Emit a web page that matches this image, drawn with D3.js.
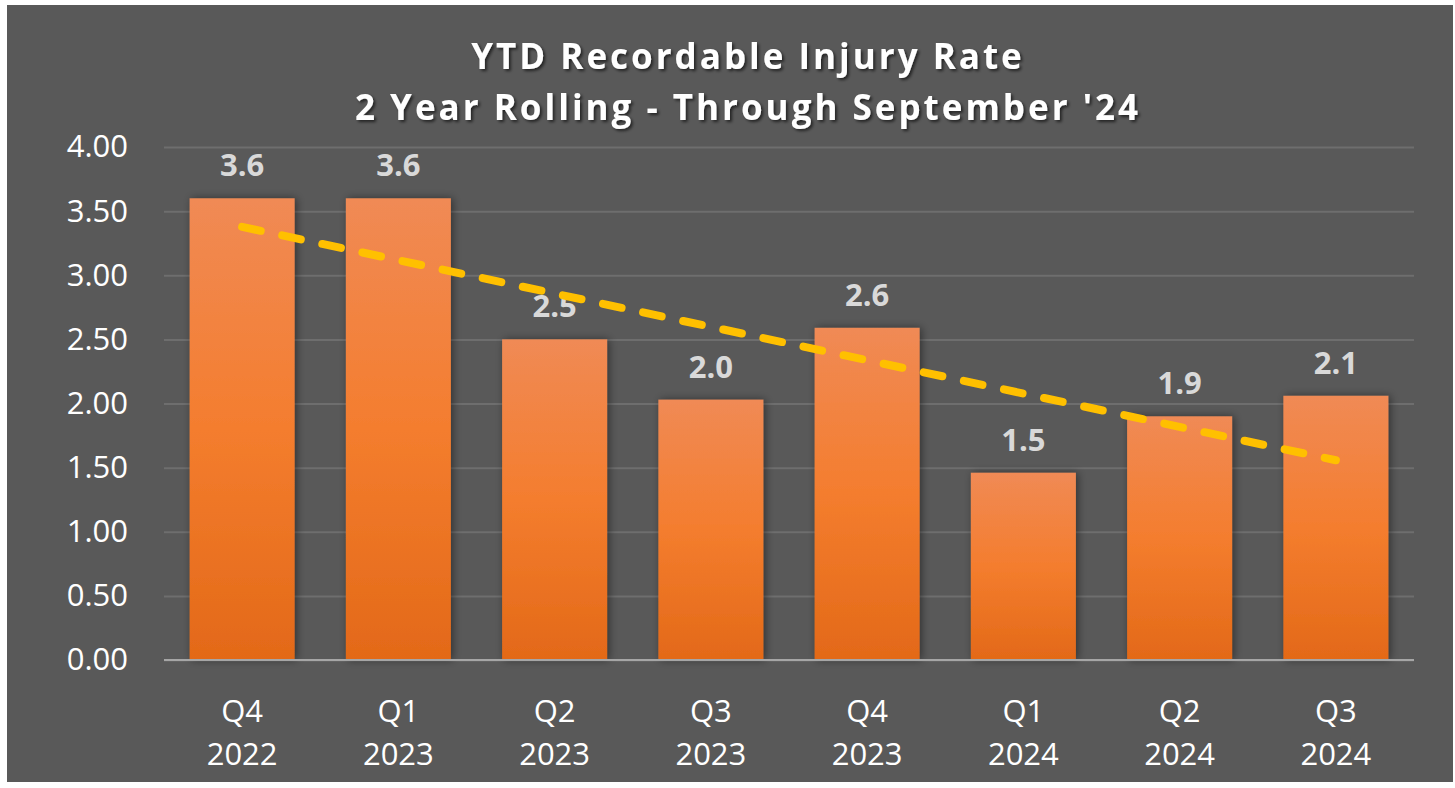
<!DOCTYPE html>
<html><head><meta charset="utf-8">
<script src="https://cdn.jsdelivr.net/npm/d3@7"></script>
<style>
html,body{margin:0;padding:0;background:#fff;}
svg{display:block;}
</style></head>
<body>
<svg id="chart" width="1455" height="788"></svg>
<script>
const quarters = ["Q4","Q1","Q2","Q3","Q4","Q1","Q2","Q3"];
const years = ["2022","2023","2023","2023","2023","2024","2024","2024"];
const rates = [3.6, 3.6, 2.5, 2.03, 2.59, 1.46, 1.9, 2.06];
const yTicks = [0,0.5,1,1.5,2,2.5,3,3.5,4];
const titleLines = ["YTD Recordable Injury Rate", "2 Year Rolling - Through September '24"];

const svg = d3.select("#chart");
const plot = {left:164, right:1414, top:147, bottom:660};

const defs = svg.append("defs");
const grad = defs.append("linearGradient").attr("id","barGrad").attr("x1",0).attr("y1",0).attr("x2",0).attr("y2",1);
grad.append("stop").attr("offset","0%").attr("stop-color","#F08A55");
grad.append("stop").attr("offset","50%").attr("stop-color","#F47D2E");
grad.append("stop").attr("offset","100%").attr("stop-color","#E36918");
const sh = defs.append("filter").attr("id","barShadow").attr("x","-20%").attr("y","-10%").attr("width","140%").attr("height","120%");
sh.append("feDropShadow").attr("dx",2).attr("dy",0).attr("stdDeviation",4).attr("flood-color","#000").attr("flood-opacity",0.45);
const tsh = defs.append("filter").attr("id","textShadow").attr("x","-5%").attr("y","-30%").attr("width","110%").attr("height","160%");
tsh.append("feDropShadow").attr("dx",2).attr("dy",2).attr("stdDeviation",1.5).attr("flood-color","#000").attr("flood-opacity",0.6);

svg.append("rect").attr("x",7).attr("y",5).attr("width",1446).attr("height",777).attr("fill","#595959");

const labels = quarters.map((q,i)=>q+" "+years[i]+"#"+i);
const x = d3.scaleBand().domain(labels).range([plot.left, plot.right]).paddingInner(0.328).paddingOuter(0.164);
const y = d3.scaleLinear().domain([0,4]).range([plot.bottom, plot.top]);

// gridlines + y axis labels
const yAxis = d3.axisLeft(y).tickValues(yTicks).tickFormat(d3.format(".2f")).tickSize(-(plot.right-plot.left)).tickPadding(36);
const gy = svg.append("g").attr("transform",`translate(${plot.left},0)`).call(yAxis);
gy.select(".domain").remove();
gy.selectAll(".tick line").attr("stroke","#6E6E6E").attr("stroke-width",2);
gy.selectAll(".tick text").attr("fill","#FFFFFF").attr("font-family","'Open Sans', sans-serif").attr("font-size",31);

// bars
svg.append("g").selectAll("rect").data(rates).join("rect")
  .attr("x",(d,i)=>x(labels[i])).attr("width",x.bandwidth())
  .attr("y",d=>y(d)).attr("height",d=>y(0)-y(d))
  .attr("fill","url(#barGrad)").attr("filter","url(#barShadow)");

// baseline
svg.append("line").attr("x1",plot.left).attr("x2",plot.right).attr("y1",y(0)).attr("y2",y(0)).attr("stroke","#A6A6A6").attr("stroke-width",2);

// data labels
svg.append("g").selectAll("text").data(rates).join("text")
  .attr("x",(d,i)=>x(labels[i])+x.bandwidth()/2).attr("y",d=>y(d)-22)
  .attr("text-anchor","middle").attr("fill","#D9D9D9")
  .attr("font-family","'Open Sans', sans-serif").attr("font-weight","bold").attr("font-size",31)
  .text(d=>d3.format(".1f")(d));

// trendline (linear regression of the bar values)
const n = rates.length;
const xs = rates.map((d,i)=>i+1);
const mx = d3.mean(xs), my = d3.mean(rates);
const slope = d3.sum(xs.map((v,i)=>(v-mx)*(rates[i]-my))) / d3.sum(xs.map(v=>(v-mx)*(v-mx)));
const icpt = my - slope*mx;
const c = i => x(labels[i])+x.bandwidth()/2;
svg.append("line")
  .attr("x1",c(0)).attr("y1",y(icpt+slope*1))
  .attr("x2",c(n-1)).attr("y2",y(icpt+slope*n))
  .attr("stroke","#FFC000").attr("stroke-width",8).attr("stroke-linecap","round")
  .attr("stroke-dasharray","19 22");

// x labels
const xl = svg.append("g");
labels.forEach((l,i)=>{
  const t = xl.append("text").attr("x",c(i)).attr("text-anchor","middle")
    .attr("fill","#FFFFFF").attr("font-family","'Open Sans', sans-serif").attr("font-size",31);
  t.append("tspan").attr("x",c(i)).attr("y",722).text(quarters[i]);
  t.append("tspan").attr("x",c(i)).attr("y",765).text(years[i]);
});

// title
svg.append("g").selectAll("text").data(titleLines).join("text")
  .attr("x",748).attr("y",(d,i)=>69+i*51)
  .attr("text-anchor","middle").attr("fill","#FFFFFF")
  .attr("font-family","'Open Sans', sans-serif").attr("font-weight","bold").attr("font-size",35)
  .attr("letter-spacing",3).attr("filter","url(#textShadow)")
  .text(d=>d);
</script>
</body></html>
